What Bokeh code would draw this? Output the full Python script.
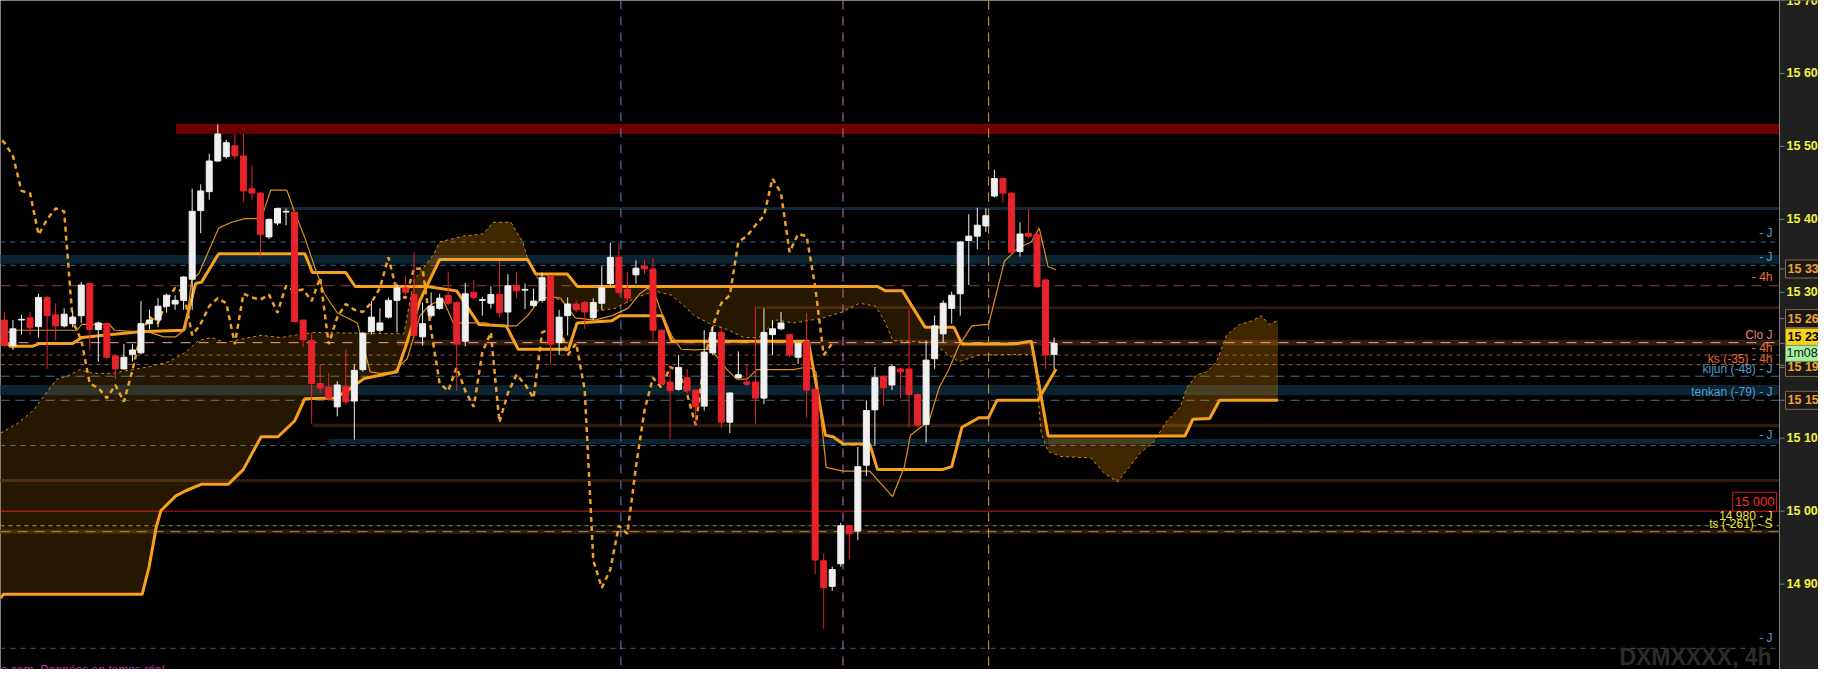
import numpy as np
from bokeh.plotting import figure
from bokeh.models import Range1d, Label, Span, ColumnDataSource
from bokeh.embed import file_html
from bokeh.resources import INLINE

# ---------------- data (4h candles, bar index 0..123) ----------------
opens = [15262, 15227, 15262, 15265, 15253, 15293, 15269, 15254, 15257, 15268,
         15312, 15249, 15257, 15213, 15195, 15215, 15217, 15257, 15262, 15281,
         15284, 15289, 15318, 15412, 15438, 15480, 15486, 15501, 15487, 15442,
         15436, 15376, 15395, 15410, 15410, 15262, 15234, 15175, 15170, 15143,
         15171, 15151, 15194, 15246, 15248, 15266, 15289, 15306, 15297, 15239,
         15268, 15278, 15296, 15286, 15233, 15300, 15289, 15285, 15297, 15273,
         15309, 15303, 15282, 15289, 15322, 15231, 15268, 15284, 15286, 15265,
         15285, 15312, 15348, 15304, 15324, 15336, 15332, 15248, 15177, 15167,
         15183, 15166, 15144, 15217, 15245, 15122, 15183, 15177, 15177, 15155,
         15242, 15250, 15242, 15211, 15233, 15167, 14932, 14897, 14928, 14980,
         14973, 15063, 15139, 15185, 15173, 15195, 15195, 15160, 15119, 15209,
         15243, 15278, 15298, 15371, 15377, 15391, 15432, 15456, 15436, 15356,
         15381, 15379, 15317, 15215]
highs = [15273, 15262, 15269, 15273, 15298, 15295, 15285, 15278, 15274, 15314,
         15312, 15260, 15259, 15213, 15229, 15229, 15288, 15276, 15292, 15298,
         15296, 15322, 15442, 15448, 15490, 15530, 15509, 15517, 15517, 15474,
         15437, 15401, 15416, 15415, 15412, 15262, 15245, 15201, 15189, 15178,
         15221, 15201, 15245, 15288, 15278, 15293, 15312, 15322, 15355, 15286,
         15300, 15298, 15328, 15288, 15313, 15317, 15294, 15308, 15343, 15325,
         15328, 15312, 15305, 15327, 15323, 15276, 15293, 15289, 15288, 15292,
         15336, 15368, 15368, 15328, 15344, 15344, 15347, 15249, 15199, 15214,
         15195, 15167, 15248, 15254, 15254, 15163, 15219, 15201, 15281, 15278,
         15262, 15273, 15243, 15231, 15272, 15168, 14942, 14924, 14984, 14981,
         15088, 15152, 15198, 15186, 15201, 15197, 15276, 15161, 15234, 15268,
         15289, 15301, 15370, 15407, 15416, 15415, 15468, 15457, 15437, 15396,
         15414, 15383, 15318, 15238]
lows = [15225, 15221, 15242, 15241, 15238, 15195, 15234, 15252, 15252, 15258,
        15221, 15205, 15209, 15181, 15194, 15205, 15215, 15249, 15252, 15272,
        15276, 15276, 15276, 15381, 15427, 15479, 15483, 15482, 15424, 15427,
        15349, 15373, 15392, 15392, 15258, 15225, 15120, 15162, 15151, 15130,
        15146, 15098, 15191, 15242, 15245, 15264, 15245, 15296, 15238, 15227,
        15265, 15276, 15282, 15165, 15226, 15290, 15268, 15278, 15266, 15254,
        15292, 15277, 15280, 15286, 15201, 15214, 15241, 15273, 15250, 15262,
        15276, 15309, 15297, 15285, 15312, 15325, 15234, 15171, 15098, 15165,
        15161, 15118, 15138, 15214, 15114, 15107, 15182, 15171, 15120, 15147,
        15214, 15248, 15211, 15202, 15128, 14914, 14839, 14891, 14924, 14934,
        14960, 15048, 15090, 15144, 15166, 15155, 15115, 15115, 15094, 15195,
        15231, 15257, 15268, 15310, 15359, 15383, 15430, 15422, 15352, 15349,
        15375, 15306, 15195, 15195]
closes = [15227, 15250, 15263, 15252, 15293, 15268, 15254, 15270, 15266, 15310,
          15249, 15258, 15211, 15195, 15211, 15221, 15257, 15262, 15281, 15296,
          15289, 15321, 15411, 15439, 15480, 15517, 15505, 15487, 15439, 15436,
          15379, 15400, 15415, 15411, 15260, 15235, 15175, 15169, 15155, 15173,
          15150, 15193, 15244, 15266, 15258, 15289, 15306, 15300, 15241, 15257,
          15281, 15292, 15285, 15229, 15298, 15293, 15290, 15297, 15272, 15309,
          15302, 15304, 15288, 15320, 15229, 15266, 15284, 15276, 15273, 15286,
          15306, 15348, 15300, 15292, 15333, 15332, 15248, 15175, 15165, 15197,
          15165, 15143, 15218, 15245, 15122, 15162, 15187, 15174, 15155, 15245,
          15250, 15258, 15214, 15230, 15166, 14933, 14895, 14920, 14980, 14969,
          15061, 15138, 15183, 15169, 15198, 15191, 15160, 15118, 15207, 15254,
          15285, 15296, 15369, 15377, 15392, 15405, 15456, 15436, 15355, 15380,
          15377, 15308, 15214, 15230]

# Ichimoku lines (bar index, price)
tenkan_x = [-0.46, 1.05, 8.5, 9.06, 12.3, 12.9, 17.0, 18.7, 20.1, 21.25, 21.95, 22.76, 25.1, 26.6,
            28.2, 30.1, 31.2, 33.1, 34.0, 35.2, 36.35, 37.5, 39.0, 41.35, 42.86, 44.0, 45.6, 47.2,
            48.0, 48.7, 49.7, 50.3, 51.4, 52.6, 56.5, 57.3, 60.0, 61.3, 62.6, 63.76, 65.16, 66.9,
            69.2, 71.2, 73.05, 74.45, 75.4, 76.2, 77.0, 78.16, 79.3, 80.84, 82.8, 84.67, 85.83,
            87.0, 88.15, 92.45, 94.2, 95.1, 96.3, 98.26, 101.4, 104.07, 105.46, 106.16, 108.36,
            109.52, 110.69, 111.85, 113.36, 115.33, 117.19, 118.82, 120.33, 121.25, 122.3, 123.23]
tenkan_v = [15241, 15248, 15248, 15256, 15256, 15248, 15245, 15239, 15239, 15250, 15318, 15325, 15388, 15396,
            15401, 15401, 15440, 15440, 15410, 15375, 15335, 15298, 15272, 15258, 15191, 15189, 15191, 15209,
            15241, 15268, 15281, 15285, 15290, 15258, 15258, 15254, 15254, 15268, 15288, 15294, 15292, 15265,
            15262, 15268, 15278, 15298, 15306, 15298, 15272, 15241, 15222, 15221, 15222, 15194, 15181,
            15181, 15194, 15194, 15198, 15191, 15060, 15055, 15055, 15020, 15061, 15104, 15124,
            15169, 15195, 15227, 15254, 15256, 15343, 15361, 15369, 15388, 15335, 15331]

kijun_x = [-0.46, 0.7, 3.25, 4.18, 8.0, 9.06, 12.3, 15.8, 21.0, 22.4, 23.1, 25.1, 35.2, 36.1, 40.0,
           41.1, 49.5, 53.0, 55.6, 58.8, 60.2, 66.1, 67.1, 71.2, 72.1, 77.1, 78.2, 94.2, 96.2,
           97.1, 98.3, 101.4, 102.3, 109.9, 111.0, 112.2, 114.2, 115.3, 116.3, 121.1, 123.23]
kijun_v = [15238, 15226, 15226, 15230, 15230, 15238, 15242, 15246, 15248, 15312, 15314, 15353, 15353, 15327, 15327,
           15308, 15308, 15302, 15256, 15254, 15222, 15222, 15258, 15261, 15268, 15268, 15233, 15233, 15104,
           15102, 15092, 15092, 15057, 15057, 15061, 15115, 15128, 15128, 15152, 15152, 15195]

senkou_a_x = [-0.46, 1.51, 3.37, 5.34, 6.16, 7.32, 8.83, 10.34, 12.66, 14.98, 16.96, 19.28, 21.25, 22.76,
              24.27, 25.9, 27.41, 30.08, 32.4, 34.38, 36.35, 46.8, 47.97, 50.29, 50.99, 53.77, 56.1,
              57.26, 59.35, 60.74, 61.44, 62.83, 64.58, 66.9, 69.22, 71.54, 73.87, 76.19, 78.16,
              79.67, 80.84, 82.81, 84.67, 86.64, 88.39, 90.48, 92.45, 95.59, 97.91, 100.23, 102.09,
              103.25, 104.07, 108.71, 110.69, 111.85, 114.17, 119.51, 120.67, 121.49, 122.3, 123.81,
              127.29, 128.8, 130.43, 131.59, 133.1, 134.61, 136.24, 137.75, 138.56, 139.72, 140.89,
              142.05, 143.21, 144.72, 146.23, 147.27, 148.2, 149.24]
senkou_a_v = [15107, 15120, 15138, 15169, 15181, 15185, 15194, 15189, 15189, 15194, 15198, 15205, 15218, 15234,
              15238, 15231, 15235, 15241, 15238, 15242, 15245, 15243, 15316, 15352, 15369, 15377, 15380,
              15396, 15396, 15369, 15341, 15312, 15292, 15278, 15274, 15278, 15292, 15302, 15296,
              15281, 15268, 15256, 15249, 15238, 15238, 15262, 15258, 15264, 15272, 15285, 15281,
              15258, 15234, 15231, 15214, 15205, 15214, 15215, 15214, 15107, 15082, 15075,
              15073, 15053, 15040, 15057, 15080, 15094, 15124, 15142, 15169, 15187, 15191,
              15205, 15241, 15256, 15261, 15268, 15256, 15262]

senkou_b_x = [-0.46, -0.12, 16.14, 16.96, 17.77, 18.35, 20.09, 21.25, 23.11, 26.25, 27.99, 30.08, 32.06,
              34.03, 35.19, 38.68, 40.19, 42.16, 45.99, 47.2, 48.7, 51.0, 61.32, 62.25, 65.97, 67.13,
              102.32, 103.25, 105.23, 107.9, 111.27, 112.2, 118.23, 120.33, 122.3, 138.33, 139.26,
              141.23, 142.39, 149.24]
senkou_b_v = [14881, 14886, 14886, 14924, 14977, 15001, 15021, 15028, 15037, 15037, 15057, 15102, 15102,
              15124, 15154, 15155, 15165, 15182, 15191, 15232, 15289, 15345, 15345, 15325, 15325, 15308,
              15308, 15302, 15302, 15252, 15252, 15229, 15229, 15233, 15103, 15103, 15126,
              15127, 15152, 15152]
chikou_shift = 26

# horizontal zones: price bottom, price top, first bar
zone_bottom = [15517, 15413, 15339, 15277, 15227, 15159, 15115, 15092, 15040, 14969]
zone_top    = [15531, 15417, 15351, 15281, 15235, 15173, 15120, 15099, 15044, 14975]
zone_start  = [20.1, 32.0, -1.0, 88.2, 46.0, -1.0, 36.1, 38.0, -1.0, -1.0]
zone_kind   = ["res", "blue", "teal", "brown", "brown", "teal", "brown", "teal", "brown", "brown"]

# horizontal levels
level_price = [15369, 15337, 15309, 15231, 15214, 15201, 15185, 15152, 15090, 15000, 14980, 14972, 14812]
level_kind  = ["J", "J", "h4", "clo", "h4s", "ks", "kij", "kij", "J", "round", "yel", "ts", "grey"]

# vertical session markers (bar index)
vline_bar  = [72.24, 98.26, 115.33]
vline_kind = ["blue", "pink", "orange"]

# right-hand texts
note_price = [15381, 15348, 15321, 15242, 15223, 15209, 15195, 15163, 15104, 14993, 14982, 14826]
note_text  = ["- J", "- J", "- 4h", "Clo J", "- 4h", "ks (-35) - 4h", "kijun (-48) - J",
              "tenkan (-79) - J", "- J", "14 980 - J", "ts (-261) - S", "- J"]
note_kind  = ["J", "J", "h4", "clo", "h4", "ks", "J", "J", "J", "yel", "yel", "J"]

# price scale (what the window shows of each label)
axis_ticks  = [14900, 15000, 15100, 15200, 15300, 15400, 15500, 15600, 15700]
axis_labels = ["14 90", "15 00", "15 10", "15 20", "15 30", "15 40", "15 50", "15 60", "15 70"]
tag_price   = [15332, 15264, 15197, 15152]
tag_labels  = ["15 33", "15 26", "15 19", "15 15"]
last_label  = "15 23"
countdown   = "1m08"
round_level = 15000
round_label = "15 000"
symbol = "DXMXXXX, 4h"
footer = "e.com. Données en temps réel"

# bright parts of the cloud (bar ranges)
bright_ranges = [(46.8, 61.4), (122.3, 149.24)]

# ---------------- layout & styles ----------------
W, H = 1818, 669
AXW = 39
CW = W - AXW
X0, XA = -0.46, 208.0
SX = (XA - X0) / CW
XR = (X0, XA + AXW * SX)
YR = (14783.0, 15700.0)
FONT = "Liberation Sans"

def dx(px):
    return px * SX

zone_colors = {"res": "#6c0000", "blue": "#13273a", "teal": "#0c2332", "brown": "#301c0e"}
level_styles = {
    "J": ("#3d6f92", "5 5"), "h4": ("#8c4a33", "10 7"), "clo": ("#f2a2a2", "10 8"),
    "h4s": ("#9a4c3a", "4 4"), "ks": ("#a85c3c", "4 4"), "kij": ("#3d6f92", "9 6"),
    "round": ("#d01818", "solid"), "yel": ("#9c9c3c", "4 4"), "ts": ("#a88a30", "10 7"),
    "grey": ("#4a5866", "5 5"),
}
vline_colors = {"blue": "#6282cc", "pink": "#c86cc8", "orange": "#d8a040"}
note_colors = {"J": "#4f9fd6", "h4": "#e8703c", "clo": "#e88080", "ks": "#e8683a", "yel": "#eee23a"}

p = figure(width=W, height=H, x_range=Range1d(*XR), y_range=Range1d(*YR),
           toolbar_location=None, output_backend="svg", title=None,
           x_axis_location=None, y_axis_location=None,
           min_border_left=0, min_border_right=0, min_border_top=0, min_border_bottom=0,
           background_fill_color="#000000", border_fill_color="#000000",
           outline_line_color=None)
for g in p.grid:
    g.visible = False

# zones
zsrc = ColumnDataSource(dict(left=zone_start, right=[XA] * len(zone_start),
                             bottom=zone_bottom, top=zone_top,
                             color=[zone_colors[k] for k in zone_kind]))
p.quad(left="left", right="right", bottom="bottom", top="top", fill_color="color",
       line_color=None, source=zsrc, level="underlay")

# levels
for price, kind in zip(level_price, level_kind):
    col, dash = level_styles[kind]
    p.add_layout(Span(location=price, dimension="width", line_color=col, line_dash=dash,
                      line_width=1, level="underlay"))
for bar, kind in zip(vline_bar, vline_kind):
    p.add_layout(Span(location=bar, dimension="height", line_color=vline_colors[kind],
                      line_dash="9 7", line_width=1, level="underlay"))

# watermark
p.add_layout(Label(x=XA - dx(8), y=YR[0], y_offset=13, text=symbol, text_align="right",
                   text_baseline="alphabetic", text_font=FONT, text_font_size="23px",
                   text_font_style="bold", text_color="#2c2c2c", level="underlay"))

# cloud
cx = list(senkou_a_x) + list(senkou_b_x[::-1])
cy = list(senkou_a_v) + list(senkou_b_v[::-1])
p.patch(cx, cy, fill_color="#ff9c00", fill_alpha=0.15, line_color=None)
for a, b in bright_ranges:
    ax_ = [x for x in senkou_a_x if a <= x <= b]
    av_ = [v for x, v in zip(senkou_a_x, senkou_a_v) if a <= x <= b]
    bx_ = [x for x in senkou_b_x if a <= x <= b]
    bv_ = [v for x, v in zip(senkou_b_x, senkou_b_v) if a <= x <= b]
    p.patch(ax_ + bx_[::-1], av_ + bv_[::-1], fill_color="#ff9c00", fill_alpha=0.12,
            line_color=None)

p.line(senkou_a_x, senkou_a_v, line_color="#d08a20", line_width=1, line_dash="3 3")
p.line(senkou_b_x, senkou_b_v, line_color="#f7a01c", line_width=3)
p.line(kijun_x, kijun_v, line_color="#f7a01c", line_width=3)
p.line(tenkan_x, tenkan_v, line_color="#e0901a", line_width=1.2)

idx = np.arange(len(closes))
cl = np.array(closes, dtype=float)
m = idx >= chikou_shift - 1
p.line(idx[m] - chikou_shift, cl[m], line_color="#f0a020", line_width=2.5, line_dash="5 4")

# candles
o = np.array(opens, dtype=float)
c = cl
up = c >= o
colors = np.where(up, "#f0f0f0", "#e8232a")
src = ColumnDataSource(dict(x=idx, o=o, c=c, h=highs, l=lows,
                            top=np.maximum(o, c), bottom=np.minimum(o, c), color=colors))
p.segment(x0="x", y0="l", x1="x", y1="h", line_color="color", line_width=1, source=src)
p.vbar(x="x", width=0.7, top="top", bottom="bottom", fill_color="color", line_color="color",
       line_width=1, source=src)

# price-scale panel (drawn inside the canvas so it is cut by the window edge)
p.quad(left=[XA], right=[XR[1] + 1], bottom=[YR[0] - 50], top=[YR[1] + 50],
       fill_color="#202020", line_color=None)
p.segment(x0=[XA], x1=[XA], y0=[YR[0] - 50], y1=[YR[1] + 50], line_color="#7c7c7c", line_width=1)
tick_y = axis_ticks + tag_price + [closes[-1]]
p.segment(x0=[XA] * len(tick_y), x1=[XA + dx(5)] * len(tick_y), y0=tick_y, y1=tick_y,
          line_color="#7c7c7c", line_width=1)

for t, lab in zip(axis_ticks, axis_labels):
    p.add_layout(Label(x=XA + dx(7), y=t, text=lab, text_align="left", text_baseline="middle",
                       text_font=FONT, text_font_size="12.5px", text_font_style="bold",
                       text_color="#f2f242"))
for t, lab in zip(tag_price, tag_labels):
    p.add_layout(Label(x=XA + dx(6), y=t, text=lab, text_align="left", text_baseline="middle",
                       text_font=FONT, text_font_size="12.5px", text_font_style="bold",
                       text_color="#f4a030", background_fill_color="#181818",
                       border_line_color="#8a6a3a", padding=2))
last = closes[-1]
p.add_layout(Label(x=XA + dx(6), y=last, y_offset=6, text=last_label, text_align="left",
                   text_baseline="middle", text_font=FONT, text_font_size="12.5px",
                   text_font_style="bold", text_color="#000000",
                   background_fill_color="#f8d21c", border_line_color="#8a7a30", padding=2))
p.add_layout(Label(x=XA + dx(6), y=last, y_offset=-10, text=countdown, text_align="left",
                   text_baseline="middle", text_font=FONT, text_font_size="12.5px",
                   text_color="#102010", background_fill_color="#a6eea0",
                   border_line_color="#6a9a6a", padding=1))

# round number tag
p.add_layout(Label(x=XA - dx(3), y=round_level, text=round_label, text_align="right",
                   text_baseline="bottom", text_font=FONT, text_font_size="13px",
                   text_color="#ff2a2a", background_fill_color="#000000",
                   border_line_color="#d01818", padding=2))

# right-hand notes
for price, txt, kind in zip(note_price, note_text, note_kind):
    p.add_layout(Label(x=XA - dx(7), y=price, text=txt, text_align="right",
                       text_baseline="middle", text_font=FONT, text_font_size="12px",
                       text_color=note_colors[kind]))

# footer
p.add_layout(Label(x=XR[0], y=YR[0], y_offset=7, text=footer, text_align="left",
                   text_baseline="top", text_font=FONT, text_font_size="12px",
                   text_font_style="italic", text_color="#c828c8"))

open("out.html", "w").write(file_html(p, INLINE))
